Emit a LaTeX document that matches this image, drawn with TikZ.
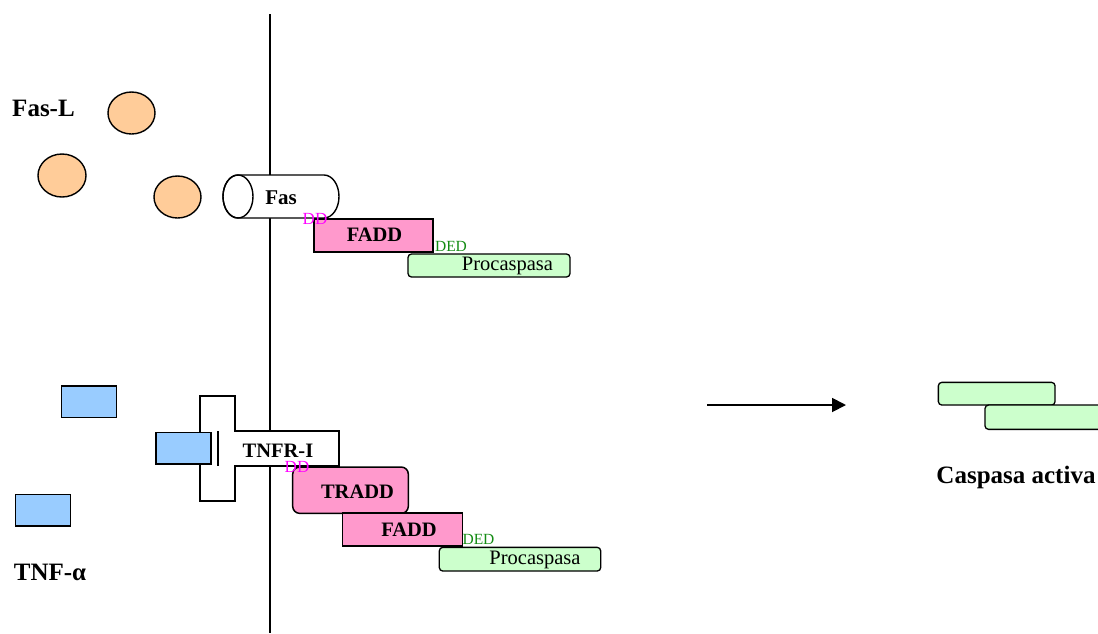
\documentclass[tikz,border=0pt]{standalone}
\usepackage{fontspec}
\setmainfont{Liberation Serif}
\usetikzlibrary{shapes.geometric,arrows.meta}
\definecolor{ligandfill}{RGB}{255,204,153}
\definecolor{pinkfill}{RGB}{255,153,204}
\definecolor{greenfill}{RGB}{204,255,204}
\definecolor{bluefill}{RGB}{153,204,255}
\definecolor{ddcol}{RGB}{255,0,255}
\definecolor{dedcol}{RGB}{20,140,20}
\tikzset{
  ligand/.style={ellipse, draw, fill=ligandfill, line width=1.4pt, inner sep=0pt},
  pinkbox/.style={rectangle, draw, fill=pinkfill, line width=1.5pt, inner sep=0pt},
  pinkround/.style={pinkbox, rounded corners=7pt},
  greenbox/.style={rectangle, draw, fill=greenfill, line width=1.3pt, inner sep=0pt, rounded corners=3.5pt},
  bluebox/.style={rectangle, draw, fill=bluefill, line width=1.5pt, inner sep=0pt},
  biglabel/.style={font=\fontsize{25}{28}\selectfont\bfseries, anchor=base, inner sep=0pt},
  boxlabel/.style={font=\fontsize{20.5}{23}\selectfont\bfseries, anchor=base, inner sep=0pt},
  prolabel/.style={font=\fontsize{20.5}{23}\selectfont, anchor=base, inner sep=0pt},
  ddlabel/.style={font=\fontsize{17}{19}\selectfont, text=ddcol, anchor=base, inner sep=0pt},
  dedlabel/.style={font=\fontsize{15.5}{17}\selectfont, text=dedcol, anchor=base, inner sep=0pt},
}
\begin{document}
\begin{tikzpicture}[x=1pt,y=-1pt]
\useasboundingbox (0,0) rectangle (1098,633);
\clip (0,0) rectangle (1098,633);

% membrane
\coordinate (mtop) at (270,14);
\coordinate (mbot) at (270,633);
\draw[line width=1.3pt] (mtop) -- (mbot);

% Fas-L ligands
\node[ligand, minimum width=47pt, minimum height=42pt] (lig1) at (131.5,113) {};
\node[ligand, minimum width=48pt, minimum height=43pt] (lig2) at (62,175.5) {};
\node[ligand, minimum width=47pt, minimum height=42pt] (lig3) at (177.5,197) {};
\node[biglabel] (fasl) at (43.5,116) {Fas-L};

% Fas receptor (cylinder)
\draw[fill=white, line width=1.4pt] (238,175) -- (324,175)
  arc[start angle=-90, end angle=90, x radius=15, y radius=21.5]
  -- (238,218)
  arc[start angle=90, end angle=270, x radius=15, y radius=21.5] -- cycle;
\draw[line width=1.4pt] (238,196.5) ellipse[x radius=15, y radius=21.5];
\node[boxlabel, font=\fontsize{21}{23}\selectfont\bfseries] (fas) at (281,204.3) {Fas};

% upper complex
\node[pinkbox, minimum width=119pt, minimum height=33pt] (fadd1) at (373.5,235.5) {};
\node[boxlabel] (fadd1t) at (374.5,241.7) {FADD};
\node[ddlabel] (dd1) at (315,224) {DD};
\node[dedlabel] (ded1) at (451,251) {DED};
\node[greenbox, minimum width=162pt, minimum height=23pt] (proc1) at (489,265.5) {};
\node[prolabel] (proc1t) at (507.5,270.5) {Procaspasa};

% TNF-alpha ligands
\node[bluebox, minimum width=54.6pt, minimum height=31.7pt] (tnf1) at (89,401.8) {};
\node[bluebox, minimum width=54.6pt, minimum height=31.7pt] (tnf3) at (43,510.2) {};

% TNFR-I receptor (cross)
\draw[fill=white, line width=1.4pt] (200,396) -- (235,396) -- (235,431) -- (339,431)
  -- (339,466) -- (235,466) -- (235,501) -- (200,501) -- cycle;
\draw[line width=1.4pt] (218,431) -- (218,466);
\node[bluebox, minimum width=54.6pt, minimum height=31.3pt] (tnf2) at (183.5,448.3) {};
\node[boxlabel] (tnfr) at (278,457) {TNFR-I};
\node[biglabel] (tnfa) at (50,580) {TNF-α};

% lower complex
\node[pinkround, minimum width=115.6pt, minimum height=46.3pt] (tradd) at (350.5,490.2) {};
\node[boxlabel] (traddt) at (357.5,498) {TRADD};
\node[ddlabel] (dd2) at (297,472.7) {DD};
\node[pinkbox, minimum width=120pt, minimum height=33.3pt] (fadd2) at (402.7,529.4) {};
\node[boxlabel] (fadd2t) at (409,536) {FADD};
\node[dedlabel] (ded2) at (478.5,544) {DED};
\node[greenbox, minimum width=161.4pt, minimum height=23.7pt] (proc2) at (520,559.2) {};
\node[prolabel] (proc2t) at (535,564) {Procaspasa};

% arrow
\coordinate (arrs) at (707,405);
\coordinate (arre) at (846,405);
\draw[line width=1.8pt, -{Triangle[length=14pt,width=14pt]}] (arrs) -- (arre);

% active caspase
\node[greenbox, minimum width=116.7pt, minimum height=22.7pt] (cas1) at (996.7,393.7) {};
\node[greenbox, minimum width=130pt, minimum height=24.3pt] (cas2) at (1050,417.2) {};
\node[biglabel] (casp) at (1016,483.5) {Caspasa activa};
\end{tikzpicture}
\end{document}
